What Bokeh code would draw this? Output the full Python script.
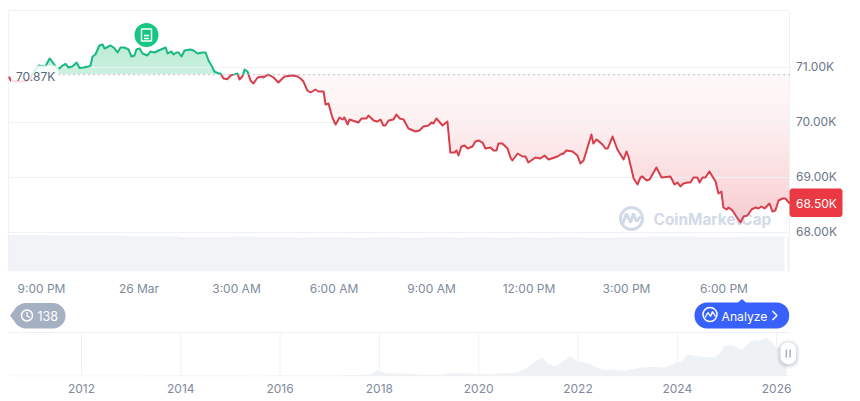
import numpy as np
from bokeh.core.properties import value
from bokeh.embed import file_html
from bokeh.layouts import column
from bokeh.models import FixedTicker, Range1d
from bokeh.plotting import figure
from bokeh.resources import INLINE

# ---------- data ----------
hours = [-1.00,-0.95,-0.80,-0.58,-0.40,-0.25,-0.09,0.12,0.25,0.37,0.46,0.55,0.65,0.74,0.83,0.95,1.08,1.17,1.29,1.45,1.51,1.57,1.66,1.78,1.88,1.94,2.06,2.12,2.22,2.34,2.43,2.55,2.68,2.77,2.86,2.92,3.02,3.11,3.26,3.35,3.48,3.60,3.82,3.88,4.00,4.06,4.15,4.22,4.31,4.40,4.58,4.68,4.80,4.95,5.05,5.14,5.23,5.32,5.45,5.51,5.60,5.72,5.82,6.03,6.09,6.18,6.25,6.34,6.43,6.52,6.65,6.80,6.83,6.98,7.14,7.29,7.35,7.48,7.60,7.75,7.88,7.97,8.06,8.18,8.28,8.43,8.52,8.68,8.74,8.83,8.95,9.05,9.17,9.26,9.32,9.42,9.48,9.75,9.85,10.00,10.06,10.22,10.34,10.43,10.52,10.58,10.68,10.83,10.92,11.02,11.14,11.29,11.51,11.63,11.75,11.91,12.00,12.06,12.15,12.34,12.49,12.58,12.71,12.77,12.83,12.92,13.02,13.11,13.26,13.35,13.45,13.57,13.66,13.82,13.91,14.00,14.06,14.18,14.34,14.43,14.49,14.65,14.80,14.89,14.98,15.20,15.35,15.48,15.60,15.88,15.97,16.06,16.15,16.34,16.49,16.58,16.68,16.80,16.92,16.98,17.08,17.26,17.35,17.42,17.57,17.72,17.91,18.00,18.06,18.22,18.34,18.43,18.49,18.62,18.71,18.92,19.08,19.35,19.48,19.57,19.66,19.75,19.88,19.97,20.06,20.18,20.25,20.34,20.43,20.55,20.74,20.83,20.92,20.98,21.08,21.14,21.26,21.38,21.51,21.60,21.72,21.85,21.97,22.06,22.15,22.25,22.40,22.49,22.58,22.68,22.80,22.89,23.02]
price = [70836,70764,70745,70745,70764,70909,71036,71018,71164,71073,71000,70982,71036,71064,71000,71018,71091,70991,71000,71018,71036,71200,71236,71400,71418,71345,71382,71400,71364,71273,71364,71364,71327,71200,71218,71327,71345,71255,71218,71291,71273,71309,71364,71255,71291,71236,71273,71273,71200,71309,71327,71309,71255,71273,71273,71127,71036,70927,70891,70891,70800,70787,70855,70891,70782,70836,70964,70927,70764,70709,70818,70836,70818,70873,70818,70727,70764,70836,70845,70855,70836,70800,70745,70582,70545,70600,70564,70564,70327,70345,70091,69964,70091,70055,70091,69964,70055,70000,70073,70073,70127,70036,70018,70055,69945,69945,70036,70055,70145,70073,70055,69891,69836,69855,69927,69945,70000,69982,70073,69945,70018,69455,69455,69491,69400,69564,69582,69527,69564,69655,69673,69636,69527,69545,69491,69491,69618,69618,69527,69364,69309,69436,69382,69382,69273,69364,69345,69400,69327,69382,69418,69436,69491,69473,69400,69255,69309,69545,69782,69618,69691,69600,69527,69527,69745,69509,69327,69473,69382,68982,68873,69000,69018,68945,68964,69182,69000,69018,68873,68909,68836,68891,68909,68909,69000,69000,68909,69000,69000,69109,68927,68709,68745,68455,68418,68455,68400,68291,68182,68291,68309,68418,68455,68436,68473,68436,68527,68382,68400,68582,68618,68618,68527]
baseline = 70870
price_ticks = [68000, 69000, 70000, 71000]
price_labels = ["68.00K", "69.00K", "70.00K", "71.00K"]
time_ticks = [0, 3, 6, 9, 12, 15, 18, 21]
time_labels = ["9:00 PM", "26 Mar", "3:00 AM", "6:00 AM", "9:00 AM", "12:00 PM", "3:00 PM", "6:00 PM"]
volume = [7.3,7.3,7.3,7.2,7.2,7.2,7.2,7.2,7.2,7.1,7.1,7.1,7.1,6.9,6.9,6.9,6.9,7.0,7.0,6.9,6.9,6.9,6.8,6.9,6.9,6.9,6.8,6.8,6.9,6.9,6.8,6.8,6.9,6.9,6.8,6.9,6.9,6.8,6.8,6.9,6.8,6.8,6.9,6.9,6.8,6.8,6.8,6.9,6.9,7.0,7.0,7.0,7.0,6.9,6.9,6.9,7.0,7.0,7.0,7.0,6.9]
nav_year = [2010.53,2012.0,2013.0,2013.9,2014.5,2015.5,2016.5,2017.0,2017.4,2017.7,2017.85,2017.96,2018.1,2018.3,2018.6,2018.9,2019.2,2019.5,2019.75,2020.0,2020.2,2020.5,2020.75,2020.95,2021.1,2021.28,2021.4,2021.55,2021.7,2021.85,2022.0,2022.2,2022.35,2022.5,2022.8,2022.95,2023.1,2023.3,2023.55,2023.75,2023.95,2024.1,2024.2,2024.4,2024.6,2024.75,2024.87,2024.95,2025.1,2025.3,2025.45,2025.55,2025.65,2025.79,2025.9,2026.0,2026.2]
nav_price = [0,0.1,0.2,0.9,0.6,0.3,0.6,1.0,2.2,4,7,19,10,8,7,4,4,11,8.5,7.2,6,9.3,11,24,45,60,38,33,48,64,47,42,30,20,20,17,23,28,30,27,42,50,70,65,62,60,75,98,100,86,108,118,115,125,112,92,88]
nav_years = [2012, 2014, 2016, 2018, 2020, 2022, 2024, 2026]

GREEN, RED = "#19B982", "#D83F4D"
GRID = "#EFF2F5"
VOL = "#F1F3F7"
AXIS = "#6B7689"
TICK = "#808A9D"
FONT = "Inter"

def hx(px):
    return (px - 41) / 32.5

def py(y):
    return 71000 + (67 - y) * 1000 / 55

def rounded(a, b, c, d, r):
    t = np.linspace(0, np.pi / 2, 8)
    X = np.concatenate([b - r + r * np.sin(t), b - r + r * np.cos(t), a + r - r * np.sin(t), a + r - r * np.cos(t)])
    Y = np.concatenate([c + r - r * np.cos(t), d - r + r * np.sin(t), d - r + r * np.cos(t), c + r - r * np.sin(t)])
    return X, Y

h = np.array(hours, float)
pr = np.array(price, float)

# insert the baseline crossings so that line colours and fills change exactly there
xs, ys = [h[0]], [pr[0]]
for i in range(1, len(h)):
    a, b = pr[i - 1] - baseline, pr[i] - baseline
    if a * b < 0:
        xs.append(h[i - 1] + (h[i] - h[i - 1]) * a / (a - b))
        ys.append(baseline)
    xs.append(h[i])
    ys.append(pr[i])
xs, ys = np.array(xs), np.array(ys)

# ---------- main chart ----------
x0, x1 = hx(8), hx(789)
y0, y1 = py(271), py(10)
p = figure(width=852, height=298, x_range=Range1d(hx(7), hx(852)), y_range=Range1d(y0, py(9)),
           y_axis_type=None, output_backend="svg", toolbar_location=None,
           min_border_left=7, min_border_right=0, min_border_top=9, min_border_bottom=27,
           background_fill_color="white", border_fill_color="white")
p.grid.visible = False
p.outline_line_color = None

# gradient fills as opaque steps, each followed by a white mask on the far side of the line
gtop, glow = np.array([188, 236, 214]), np.array([205, 241, 224])
for i in range(12):
    t = 1 - i / 12
    lev = baseline + (pr.max() - baseline) * t
    c = (glow + (gtop - glow) * t).round().astype(int)
    p.quad(left=h[0], right=h[-1], bottom=baseline, top=lev,
           fill_color="#%02X%02X%02X" % tuple(c), line_color=None)
p.varea(x=xs, y1=np.where(ys > baseline, ys, baseline - 100), y2=y1, fill_color="white")

n = 30
top_c, low_c = np.array([254, 248, 248]), np.array([248, 203, 207])
for i in range(n):
    t = 1 - i / n
    lev = baseline + (pr.min() - baseline) * t
    c = (top_c + (low_c - top_c) * t ** 1.5).round().astype(int)
    p.quad(left=h[0], right=h[-1], top=baseline, bottom=lev,
           fill_color="#%02X%02X%02X" % tuple(c), line_color=None)
p.varea(x=xs, y1=y0, y2=np.minimum(ys, baseline), fill_color="white")

p.segment(x0=[x0] * 4, x1=[x1] * 4, y0=price_ticks, y1=price_ticks, line_color=GRID, line_width=1)

# frame lines
p.segment(x0=[x0, x0, x1], x1=[x1, x0, x1], y0=[y1, y0, y0], y1=[y1, y1, y1], line_color=GRID, line_width=1)

# volume
p.extra_y_ranges = {"vol": Range1d(0, 52.4)}
lefts = [-1.0 + 0.4 * i for i in range(59)] + [22.6, 22.95]
rights = [-0.6 + 0.4 * i for i in range(59)] + [22.86, 23.02]
p.quad(left=lefts, right=rights, bottom=0, top=volume[:len(lefts)], y_range_name="vol",
       fill_color=VOL, line_color=None)

# watermark
WM = "#D3DAE7"
p.scatter(x=[hx(631)], y=[py(218)], marker="circle", size=22, fill_color=None, line_color=WM, line_width=3)
p.line(x=[hx(622), hx(626), hx(630), hx(633), hx(636), hx(640)],
       y=[py(224), py(213), py(222), py(213), py(221), py(216)], line_color=WM, line_width=3)
p.text(x=[hx(653)], y=[py(218.5)], text=["CoinMarketCap"], text_color=WM, text_font=value(FONT),
       text_font_size="15.4px", text_font_style="bold", text_baseline="middle", text_align="left")

# price line, split at the baseline crossings
cuts = [0] + [i for i in range(1, len(xs) - 1) if ys[i] == baseline] + [len(xs) - 1]
for a, b in zip(cuts[:-1], cuts[1:]):
    seg_y = ys[a:b + 1]
    col = GREEN if seg_y.mean() > baseline else RED
    p.line(x=xs[a:b + 1], y=seg_y, line_color=col, line_width=2, line_join="round")

p.line(x=[hx(58), x1], y=[baseline, baseline], line_color="#98A2B5", line_width=1.2, line_dash="1 4")

# baseline label
p.quad(left=hx(10.5), right=hx(58), top=py(65), bottom=py(84), fill_color="white", fill_alpha=0.82, line_color=None)
p.text(x=[hx(15.5)], y=[py(75.5)], text=["70.87K"], text_color="#58667E", text_font=value(FONT),
       text_font_size="12px", text_baseline="middle", text_align="left")

# note marker
cx, cy = hx(146), py(34.5)
p.scatter(x=[cx], y=[cy], marker="circle", size=24, fill_color="#16C784", line_color=None)
p.rect(x=[cx], y=[cy], width=10, height=12, width_units="screen", height_units="screen",
       fill_color=None, line_color="white", line_width=1.5)
p.segment(x0=[hx(143.5)] * 2, x1=[hx(148.5)] * 2, y0=[py(35), py(38)], y1=[py(35), py(38)],
          line_color="white", line_width=1.3)

# time axis
p.xaxis.ticker = FixedTicker(ticks=time_ticks)
p.xaxis.major_label_overrides = dict(zip(time_ticks, time_labels))
p.xaxis.axis_line_color = None
p.xaxis.major_tick_line_color = None
p.xaxis.minor_tick_line_color = None
p.xaxis.major_tick_out = 0
p.xaxis.major_tick_in = 0
p.xaxis.major_label_standoff = 9
p.xaxis.major_label_text_color = TICK
p.xaxis.major_label_text_font = FONT
p.xaxis.major_label_text_font_size = "12px"

# price labels at the right of the plot
p.text(x=[hx(795.5)] * 4, y=price_ticks, text=price_labels, text_color=AXIS, text_font=value(FONT),
       text_font_size="12px", text_baseline="middle", text_align="left", y_offset=-1)

# current price flag
fx, fy = rounded(789, 842, 188, 216.5, 3)
p.patch(hx(fx), py(fy), fill_color="#EA3943", line_color=None)
p.text(x=[hx(795.5)], y=[py(202.5)], text=["68.50K"], text_color="white", text_font=value(FONT),
       text_font_size="12px", text_baseline="middle", text_align="left")

# ---------- badges between the charts (axis in page pixels) ----------
m = figure(width=852, height=32, x_range=Range1d(7, 852), y_range=Range1d(330, 298),
           output_backend="svg", toolbar_location=None, min_border_left=7, min_border_right=0,
           min_border_top=0, min_border_bottom=0, x_axis_type=None, y_axis_type=None)
m.grid.visible = False
m.outline_line_color = None

CH = "#A6B0C3"
X, Y = rounded(13, 65, 302.5, 328, 12.5)
m.patch(X, Y, fill_color=CH, line_color=None)
m.patch([9.5, 17, 17], [315, 305, 325], fill_color=CH, line_color=None)
m.scatter(x=[26.5], y=[315], marker="circle", size=11, fill_color=None, line_color="white", line_width=1.5)
m.line(x=[26.5, 26.5, 29.5], y=[311.5, 315.5, 317], line_color="white", line_width=1.3)
m.text(x=[37], y=[315.5], text=["138"], text_color="white", text_font=value(FONT), text_font_size="12.5px",
       text_baseline="middle", text_align="left")

BL = "#3861FB"
X, Y = rounded(694, 788.7, 302, 328, 12.5)
m.patch(X, Y, fill_color=BL, line_color=None)
m.patch([737, 741.5, 746], [302.5, 298.5, 302.5], fill_color=BL, line_color=None)
m.scatter(x=[709.5], y=[314], marker="circle", size=14, fill_color=None, line_color="white", line_width=1.5)
m.line(x=[704.5, 707.5, 710, 712, 715], y=[317, 312, 316, 311, 316], line_color="white", line_width=1.4)
m.text(x=[721], y=[315.5], text=["Analyze"], text_color="white", text_font=value(FONT), text_font_size="12.2px",
       text_baseline="middle", text_align="left")
m.line(x=[772, 776.5, 772], y=[310.5, 315, 319.5], line_color="white", line_width=1.5)

# ---------- navigator ----------
PX_Y = 49.65
K = 3.26
def ny(y):
    return (375.5 - y) * K
def nx(px):
    return 2012 + (px - 81) / PX_Y
ya, yend = nx(8), nx(789)

n2 = figure(width=852, height=67, x_range=Range1d(nx(7), nx(852)), y_range=Range1d(ny(376), ny(330)),
            output_backend="svg", toolbar_location=None, min_border_left=7, min_border_right=0,
            min_border_top=0, min_border_bottom=21, y_axis_type=None)
n2.grid.visible = False
n2.outline_line_color = None
n2.segment(x0=nav_years, x1=nav_years, y0=0, y1=ny(332), line_color=GRID, line_width=1)
n2.segment(x0=[ya, ya], x1=[yend, yend], y0=[0, ny(332)], y1=[0, ny(332)], line_color=GRID, line_width=1)
n2.varea(x=nav_year, y1=0, y2=nav_price, fill_color=GRID)

# handle
for grow, al in [(4, 0.04), (3, 0.05), (2, 0.06), (1, 0.08)]:
    X, Y = rounded(780 - grow, 795.5 + grow, 342 - grow + 1, 363.5 + grow + 1, 7 + grow)
    n2.patch(nx(X), ny(Y), fill_color="#58667E", fill_alpha=al, line_color=None)
X, Y = rounded(780, 795.5, 342, 363.5, 7)
n2.patch(nx(X), ny(Y), fill_color="white", line_color=None)
n2.segment(x0=[nx(785.8), nx(789.6)], x1=[nx(785.8), nx(789.6)], y0=[ny(349)] * 2, y1=[ny(357)] * 2,
           line_color=CH, line_width=1.5)

n2.xaxis.ticker = FixedTicker(ticks=nav_years)
n2.xaxis.major_label_overrides = {y: str(y) for y in nav_years}
n2.xaxis.axis_line_color = None
n2.xaxis.major_tick_line_color = None
n2.xaxis.minor_tick_line_color = None
n2.xaxis.major_tick_out = 0
n2.xaxis.major_tick_in = 0
n2.xaxis.major_label_standoff = 7
n2.xaxis.major_label_text_color = TICK
n2.xaxis.major_label_text_font = FONT
n2.xaxis.major_label_text_font_size = "12px"

layout = column(p, m, n2, spacing=0)
open("out.html", "w").write(file_html(layout, INLINE))
